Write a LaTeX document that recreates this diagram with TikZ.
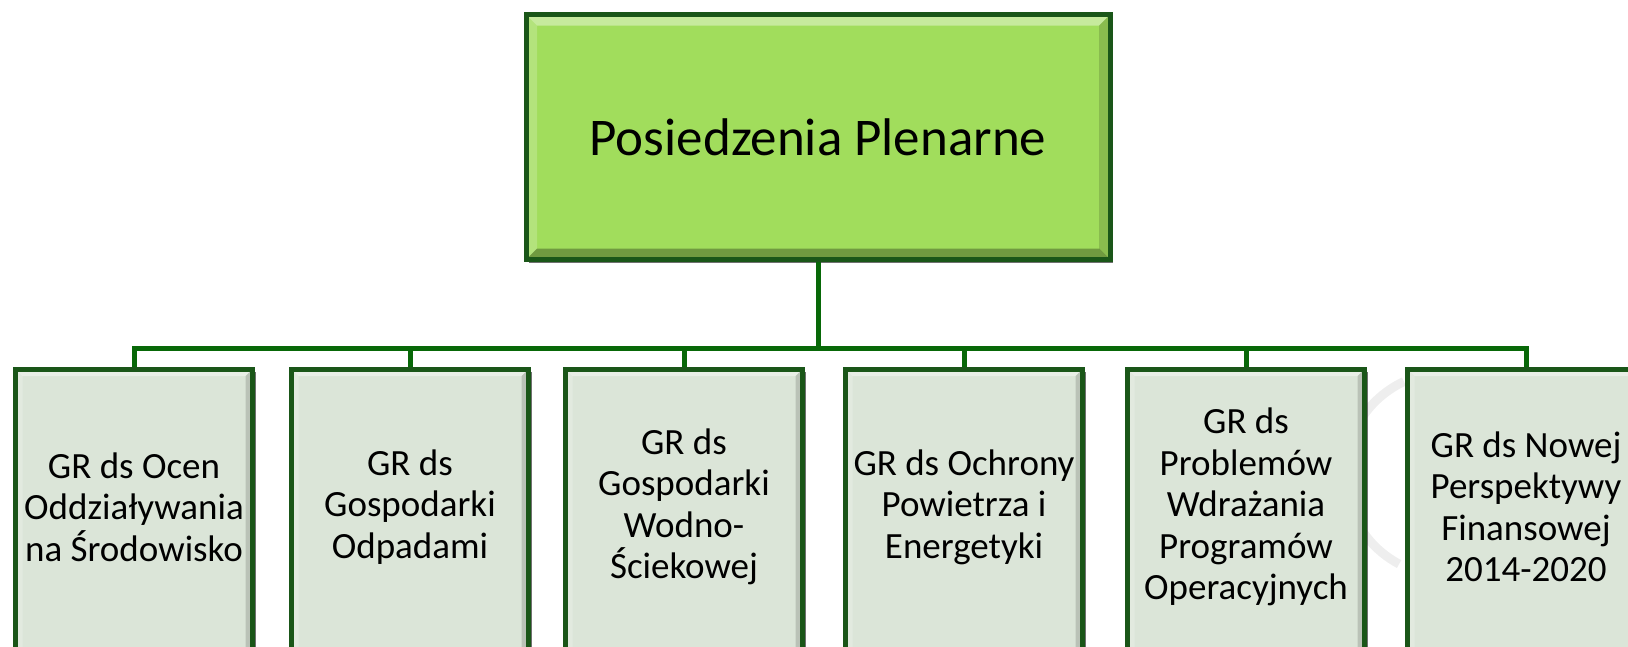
\documentclass[tikz,border=0pt]{standalone}
\usepackage{fontspec}
\setmainfont{Carlito}
\usetikzlibrary{shadows}

\definecolor{plengreen}{RGB}{161,221,92}
\definecolor{grfill}{RGB}{219,229,216}
\definecolor{framegreen}{RGB}{26,86,24}
\definecolor{linegreen}{RGB}{8,104,8}

\tikzset{
	% light top/left edge, dark bottom/right edge
	bevel/.style={path picture={
		\fill[white,opacity=0.4] (path picture bounding box.north west) -- (path picture bounding box.north east)
			-- ([shift={(-#1,-#1)}]path picture bounding box.north east) -- ([shift={(#1,-#1)}]path picture bounding box.north west) -- cycle;
		\fill[white,opacity=0.2] (path picture bounding box.north west) -- ([shift={(#1,-#1)}]path picture bounding box.north west)
			-- ([shift={(#1,#1)}]path picture bounding box.south west) -- (path picture bounding box.south west) -- cycle;
		\fill[black,opacity=0.3] (path picture bounding box.south west) -- (path picture bounding box.south east)
			-- ([shift={(-#1,#1)}]path picture bounding box.south east) -- ([shift={(#1,#1)}]path picture bounding box.south west) -- cycle;
		\fill[black,opacity=0.15] (path picture bounding box.north east) -- ([shift={(-#1,-#1)}]path picture bounding box.north east)
			-- ([shift={(-#1,#1)}]path picture bounding box.south east) -- (path picture bounding box.south east) -- cycle;
	}},
	plenbox/.style={draw=framegreen, line width=5pt, fill=plengreen, bevel=11pt,
		minimum width=584pt, minimum height=245pt, font=\fontsize{53}{60}\selectfont,
		drop shadow={shadow xshift=3pt, shadow yshift=-3pt, opacity=0.7, fill=black!80}},
	grbox/.style={draw=framegreen, line width=5pt, fill=grfill, bevel=7pt,
		minimum width=237pt, minimum height=296pt, inner sep=0pt,
		drop shadow={shadow xshift=3pt, shadow yshift=-3pt, opacity=0.7, fill=black!80}},
	grtext/.style={align=center, inner sep=0pt, yshift=10pt, font=\fontsize{37}{41.5}\selectfont},
	conn/.style={draw=linegreen, line width=5pt},
}

\begin{document}
\begin{tikzpicture}[x=1pt,y=-1pt]
	\useasboundingbox (0,0) rectangle (1628,646);
	% watermark
	\draw[gray!13, line width=9pt] (1447,474) ++(118:102) arc[start angle=118, end angle=245, radius=102];
	% plenary
	\node[plenbox] (plen) at (818,137) {Posiedzenia Plenarne};
	% working groups
	\node[grbox, label={[grtext]center:{GR ds Ocen\\Oddziaływania\\na Środowisko}}] (g1) at (134,517) {};
	\node[grbox, label={[grtext]center:{GR ds\\Gospodarki\\Odpadami}}] (g2) at (410,517) {};
	\node[grbox, label={[grtext]center:{GR ds\\Gospodarki\\Wodno-\\Ściekowej}}] (g3) at (684,517) {};
	\node[grbox, label={[grtext]center:{GR ds Ochrony\\Powietrza i\\Energetyki}}] (g4) at (964,517) {};
	\node[grbox, label={[grtext]center:{GR ds\\Problemów\\Wdrażania\\Programów\\Operacyjnych}}] (g5) at (1246,517) {};
	\node[grbox, label={[grtext]center:{GR ds Nowej\\Perspektywy\\Finansowej\\2014-2020}}] (g6) at (1526,517) {};
	% connectors
	\coordinate (bus) at (818,348);
	\foreach \n in {1,...,6}
		\draw[conn] (plen.south) |- (bus -| g\n.north) -- (g\n.north);
\end{tikzpicture}
\end{document}
